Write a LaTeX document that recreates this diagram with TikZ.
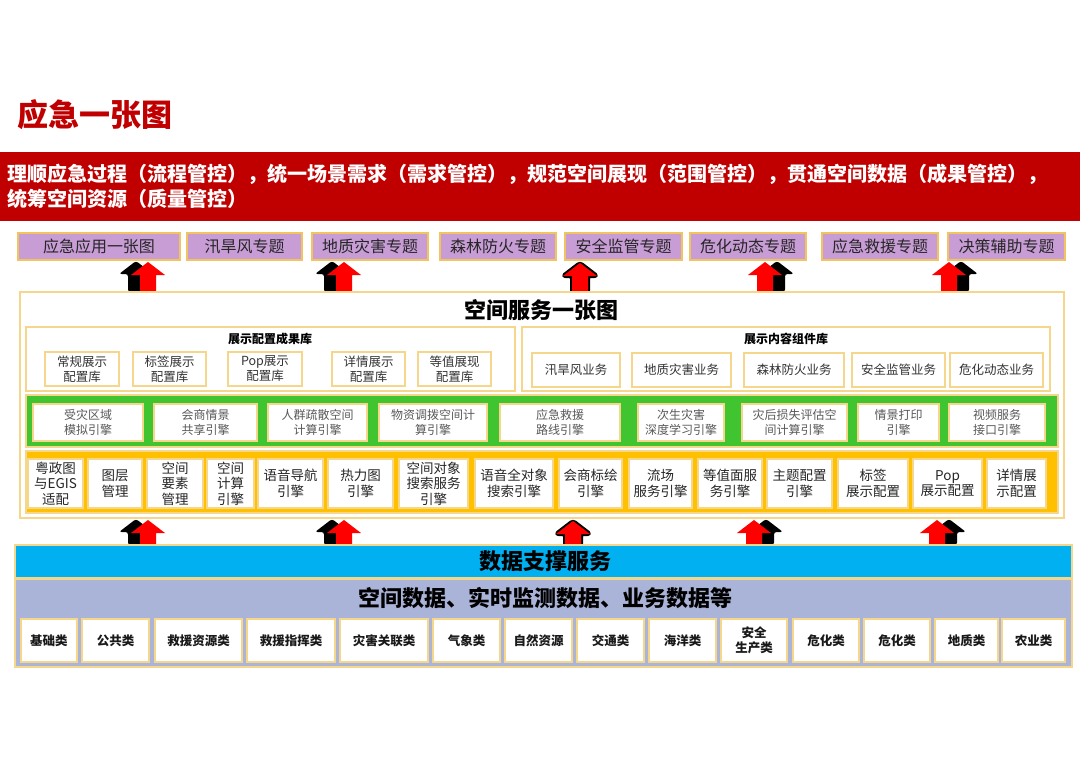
\documentclass[tikz,border=0pt]{standalone}
\usepackage{fontspec}
\setmainfont{Noto Sans CJK SC}
\usetikzlibrary{positioning}
\definecolor{bannerred}{RGB}{192,0,0}
\definecolor{topicpurple}{RGB}{200,157,214}
\definecolor{goldline}{RGB}{242,196,96}
\definecolor{paleline}{RGB}{245,214,138}
\definecolor{enginegreen}{RGB}{64,196,48}
\definecolor{engineyellow}{RGB}{255,192,0}
\definecolor{datablue}{RGB}{0,176,240}
\definecolor{datalilac}{RGB}{170,180,216}
\definecolor{arrowred}{RGB}{255,0,0}
\tikzset{
  pagetitle/.style={text=bannerred, inner sep=0, font=\fontsize{31}{34}\selectfont\bfseries},
  slogan/.style   ={fill=bannerred, text=white, minimum width=1080, minimum height=69,
                    text width=1064, align=left, inner sep=0,
                    font=\fontsize{20}{25}\selectfont\bfseries},
  topic/.style    ={draw=goldline, line width=1.5, fill=topicpurple, minimum height=27,
                    inner sep=0, text=black!85, font=\fontsize{16}{18}\selectfont},
  panel/.style    ={draw=paleline, line width=1.2, inner sep=0},
  item/.style     ={draw=paleline, line width=1.3, fill=white, align=center, inner sep=0,
                    text=black!80, font=\fontsize{12.5}{15}\selectfont},
  engine/.style   ={item, text=black!65, font=\fontsize{12}{15}\selectfont},
  tool/.style     ={item, text=black!85, font=\fontsize{13.5}{15.5}\selectfont},
  datum/.style    ={item, text=black!90, font=\fontsize{12.5}{15}\selectfont\bfseries},
  hdr/.style      ={inner sep=0, font=\fontsize{12}{14}\selectfont\bfseries},
  bigtitle/.style ={inner sep=0, font=\fontsize{22}{26}\selectfont\bfseries},
  shadowL/.style  ={shift={(-12,-1)}},
  shadowR/.style  ={shift={(12,-1)}},
  shadowC/.style  ={draw=black, line width=4, line join=round},
}
% x, tip y, base y, shadow style
\newcommand\riseArrow[4]{%
  \fill[black, rounded corners=2.5, #4] (#1-8,#3) -- (#1-8,#2+13) -- (#1-17,#2+13)
      -- (#1,#2) -- (#1+17,#2+13) -- (#1+8,#2+13) -- (#1+8,#3) -- cycle;
  \fill[arrowred] (#1-8,#3) -- (#1-8,#2+13) -- (#1-17,#2+13)
      -- (#1,#2) -- (#1+17,#2+13) -- (#1+8,#2+13) -- (#1+8,#3) -- cycle;}

\begin{document}
\begin{tikzpicture}[x=1pt, y=-1pt]
  \useasboundingbox (0,0) rectangle (1080,764);

  % arrows first, the boxes cover their feet
  \riseArrow{148}{262}{293}{shadowL}
  \riseArrow{344}{262}{293}{shadowL}
  \riseArrow{580}{263}{293}{shadowC}
  \riseArrow{765}{262}{293}{shadowR}
  \riseArrow{949}{262}{293}{shadowR}
  \riseArrow{148}{520}{546}{shadowL}
  \riseArrow{344}{520}{546}{shadowL}
  \riseArrow{573}{521}{546}{shadowC}
  \riseArrow{754}{520}{546}{shadowR}
  \riseArrow{937}{520}{546}{shadowR}

  \node[pagetitle, anchor=west] (title) at (17,115) {应急一张图};
  \node[slogan] (banner) at (540,186.5)
    {理顺应急过程（流程管控），统一场景需求（需求管控），规范空间展现（范围管控），贯通空间数据（成果管控），\\统筹空间资源（质量管控）};

  % topics
  \foreach \l/\r/\t [count=\i] in {18/180/应急应用一张图, 187/302/汛旱风专题,
      312/428/地质灾害专题, 440/556/森林防火专题, 565/682/安全监管专题,
      690/806/危化动态专题, 822/938/应急救援专题, 948/1065/决策辅助专题}
    \node[topic, minimum width={\r-\l}] (topic\i) at ({(\l+\r)/2},246.5) {\t};

  % spatial service map
  \node[panel, fill=white, minimum width=1044, minimum height=226] (svc) at (542,405) {};
  \node[bigtitle] (svctitle) at (541,310) {空间服务一张图};

  \node[panel, minimum width=489, minimum height=64] (cfg) at (270.5,359) {};
  \node[hdr] (cfghdr) at (270,339) {展示配置成果库};
  \foreach \l/\r/\t [count=\i] in {45/119/常规展示\\配置库, 133/206/标签展示\\配置库,
      228/302/Pop展示\\配置库, 332/405/详情展示\\配置库, 418/491/等值展现\\配置库}
    \node[item, minimum width={\r-\l}, minimum height=34] (cfg\i) at ({(\l+\r)/2},369) {\t};

  \node[panel, minimum width=528, minimum height=64] (comp) at (786,359) {};
  \node[hdr] (comphdr) at (786,339) {展示内容组件库};
  \foreach \l/\r/\t [count=\i] in {532/620/汛旱风业务, 632/731/地质灾害业务,
      744/844/森林防火业务, 852/945/安全监管业务, 950/1043/危化动态业务}
    \node[item, minimum width={\r-\l}, minimum height=34] (comp\i) at ({(\l+\r)/2},370) {\t};

  % engine rows
  \node[panel, fill=enginegreen, minimum width=1032, minimum height=52] (greenrow) at (542,421) {};
  \foreach \l/\r/\t [count=\i] in {33/143/受灾区域\\模拟引擎, 154/257/会商情景\\共享引擎,
      268/367/人群疏散空间\\计算引擎, 379/487/物资调拨空间计\\算引擎, 500/620/应急救援\\路线引擎,
      638/724/次生灾害\\深度学习引擎, 742/847/灾后损失评估空\\间计算引擎,
      858/939/情景打印\\引擎, 949/1045/视频服务\\接口引擎}
    \node[engine, minimum width={\r-\l}, minimum height=37] (eng\i) at ({(\l+\r)/2},422.5) {\t};

  \node[panel, fill=engineyellow, minimum width=1032, minimum height=62] (yellowrow) at (542,482) {};
  \foreach \l/\r/\t [count=\i] in {28/83/粤政图\\与EGIS\\适配, 88/142/图层\\管理,
      147/203/空间\\要素\\管理, 207/254/空间\\计算\\引擎, 258/323/语音导航\\引擎,
      328/393/热力图\\引擎, 399/468/空间对象\\搜索服务\\引擎, 475/553/语音全对象\\搜索引擎,
      559/622/会商标绘\\引擎, 629/692/流场\\服务引擎, 698/762/等值面服\\务引擎,
      767/832/主题配置\\引擎, 838/908/标签\\展示配置, 913/982/Pop\\展示配置,
      987/1046/详情展\\示配置}
    \node[tool, minimum width={\r-\l}, minimum height=49] (tool\i) at ({(\l+\r)/2},483.5) {\t};

  % data support
  \node[panel, fill=datablue, minimum width=1057, minimum height=33] (support) at (543.5,561.5) {};
  \node[bigtitle] (supporttitle) at (545,561.5) {数据支撑服务};
  \node[panel, fill=datalilac, minimum width=1057, minimum height=88] (data) at (543.5,623) {};
  \node[bigtitle] (datatitle) at (545,598) {空间数据、实时监测数据、业务数据等};
  \foreach \l/\r/\t [count=\i] in {21/77/基础类, 82/149/公共类, 155/242/救援资源类,
      247/335/救援指挥类, 340/428/灾害关联类, 433/500/气象类, 505/572/自然资源,
      577/644/交通类, 649/716/海洋类, 721/787/安全\\生产类, 793/859/危化类,
      864/930/危化类, 935/998/地质类, 1002/1065/农业类}
    \node[datum, minimum width={\r-\l}, minimum height=43] (datum\i) at ({(\l+\r)/2},640.5) {\t};
\end{tikzpicture}
\end{document}
